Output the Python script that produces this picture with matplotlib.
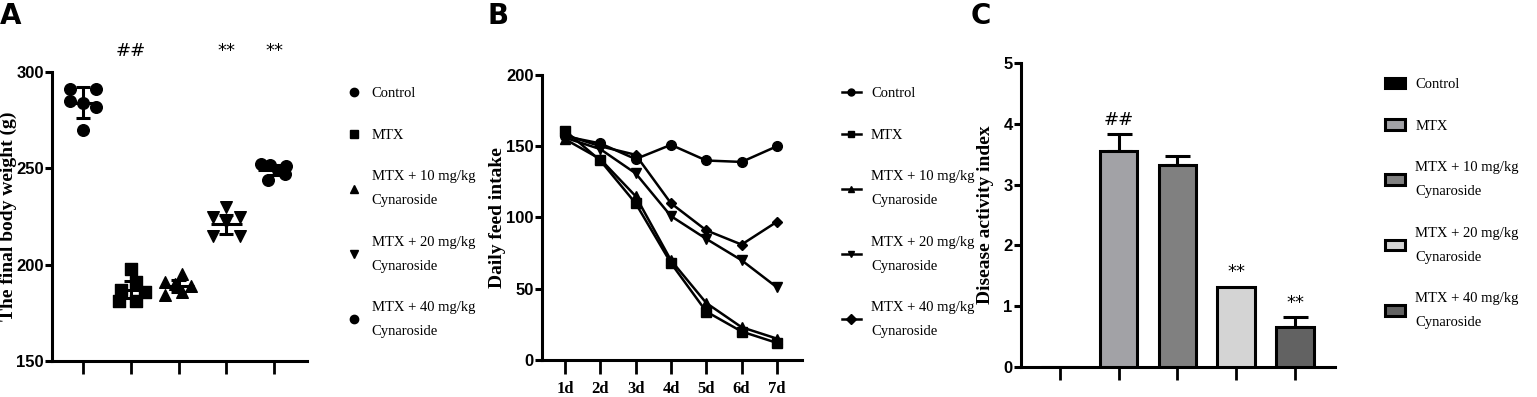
import numpy as np
import matplotlib
matplotlib.use("Agg")
from matplotlib import pyplot as plt
from matplotlib.lines import Line2D
from matplotlib.patches import Patch

# data
groups = ["Control", "MTX", "MTX + 10 mg/kg\nCynaroside",
          "MTX + 20 mg/kg\nCynaroside", "MTX + 40 mg/kg\nCynaroside"]

# A: final body weight (g), individual animals
bw_control = [291, 291, 284, 285, 282, 270]
bw_mtx = [198, 191, 187, 186, 181, 181]
bw_mtx10 = [184, 191, 195, 186, 189, 190]
bw_mtx20 = [230, 225, 225, 222, 215, 215]
bw_mtx40 = [252.5, 251.5, 251, 249, 247, 244]
bw_mean = [284, 187, 189, 221, 249]
bw_sd = [8, 4.5, 3, 5, 2.5]
bw_marks = ["", "##", "", "**", "**"]

# B: daily feed intake
days = ["1d", "2d", "3d", "4d", "5d", "6d", "7d"]
feed_control = [157, 152, 141, 151, 140, 139, 150]
feed_mtx = [161, 140, 110, 68, 34, 20, 12]
feed_mtx10 = [155, 141, 115, 70, 40, 23, 15]
feed_mtx20 = [156, 148, 131, 101, 85, 70, 51]
feed_mtx40 = [158, 150, 144, 110, 91, 81, 97]

# C: disease activity index
dai_mean = [0, 3.55, 3.32, 1.32, 0.65]
dai_err = [0, 0.28, 0.15, 0.0, 0.17]
dai_marks = ["", "##", "", "**", "**"]

W, H = 1537, 397
fig = plt.figure(figsize=(W / 100, H / 100), dpi=100)

num_font = ["Liberation Sans", "DejaVu Sans"]
serif = "Liberation Serif"


def px_axes(left, top, right, bottom):
    return fig.add_axes([left / W, (H - bottom) / H, (right - left) / W, (bottom - top) / H])


def style(ax, xticklen=9):
    for s in ["top", "right"]:
        ax.spines[s].set_visible(False)
    for s in ["left", "bottom"]:
        ax.spines[s].set_linewidth(2.2)
    ax.tick_params(axis="y", width=2.2, length=5, labelsize=12, pad=1)
    ax.tick_params(axis="x", width=2.0, length=xticklen, pad=5)
    for lab in ax.get_yticklabels():
        lab.set_family(num_font)
        lab.set_fontweight("bold")


def side_legend(ax, handles, x, y, hl=1.2):
    leg = ax.legend(handles=handles, loc="upper left", frameon=False,
                    bbox_to_anchor=(x / W, 1 - y / H), bbox_transform=fig.transFigure,
                    prop={"family": serif, "size": 10.5}, labelspacing=1.95,
                    handlelength=hl, handletextpad=0.7, borderaxespad=0)
    for t in leg.get_texts():
        t.set_linespacing(2.1)
    return leg


def ylabel(ax, text, dx, width):
    ax.set_ylabel(text, family=serif, fontweight="bold", fontsize=14, va="center")
    ax.yaxis.set_label_coords(-dx / width, 0.5)


# ---------- A ----------
axA = px_axes(52, 72, 307, 361)
offsets = [[-0.27, 0.27, 0, -0.27, 0.27, 0],
           [0.0, 0.1, -0.2, 0.3, -0.25, 0.1],
           [-0.28, -0.28, 0.07, 0.07, 0.26, -0.08],
           [0, -0.28, 0.28, 0, -0.28, 0.28],
           [-0.27, -0.09, 0.26, 0.08, 0.22, -0.12]]
bw_all = [bw_control, bw_mtx, bw_mtx10, bw_mtx20, bw_mtx40]
markersA = ["o", "s", "^", "v", "o"]
for i, vals in enumerate(bw_all):
    xs = i + np.array(offsets[i])
    axA.scatter(xs, vals, marker=markersA[i], s=70, color="black", zorder=3)
    m, sd = bw_mean[i], bw_sd[i]
    axA.hlines(m, i - 0.33, i + 0.33, color="black", lw=2.2, zorder=4)
    axA.vlines(i, m - sd, m + sd, color="black", lw=2.2, zorder=4)
    axA.hlines([m - sd, m + sd], i - 0.15, i + 0.15, color="black", lw=2.2, zorder=4)
    if bw_marks[i]:
        axA.text(i, 311, bw_marks[i], ha="center", va="center", fontsize=13,
                 family="DejaVu Sans", clip_on=False)
axA.set_xlim(-0.65, 4.69)
axA.set_ylim(150, 300)
axA.set_yticks([150, 200, 250, 300])
axA.set_xticks(range(5))
axA.set_xticklabels([])
style(axA)
ylabel(axA, "The final body weight (g)", 44, 255)
hA = [Line2D([], [], ls="none", marker=m, color="black", markersize=6) for m in markersA]
for h, g in zip(hA, groups):
    h.set_label(g)
side_legend(axA, hA, 341, 81, hl=1.0)
fig.text(0 / W, 1 - 2 / H, "A", fontsize=20, fontweight="bold", va="top", ha="left")

# ---------- B ----------
axB = px_axes(542, 75, 802, 360)
x = np.arange(1, 8)
feeds = [feed_control, feed_mtx, feed_mtx10, feed_mtx20, feed_mtx40]
markersB = ["o", "s", "^", "v", "D"]
for i, f in enumerate(feeds):
    axB.plot(x, f, color="black", lw=1.8, marker=markersB[i],
             markersize=7 if markersB[i] != "D" else 5.5, label=groups[i], zorder=3 + i)
axB.set_xlim(0.35, 7.71)
axB.set_ylim(0, 200)
axB.set_yticks([0, 50, 100, 150, 200])
axB.set_xticks(x)
axB.set_xticklabels(days, family=serif, fontweight="bold", fontsize=12)
style(axB, xticklen=10)
ylabel(axB, "Daily feed intake", 44, 260)
hB = [Line2D([], [], color="black", lw=1.8, marker=m, markersize=5) for m in markersB]
for h, g in zip(hB, groups):
    h.set_label(g)
side_legend(axB, hB, 836, 81, hl=1.3)
fig.text(488 / W, 1 - 2 / H, "B", fontsize=20, fontweight="bold", va="top", ha="left")

# ---------- C ----------
axC = px_axes(1021, 63, 1335, 367)
colorsC = ["#000000", "#a2a2a6", "#808080", "#d4d4d4", "#626262"]
xc = np.arange(5)
axC.bar(xc, dai_mean, width=0.64, color=colorsC, edgecolor="black", linewidth=2.2, zorder=3)
for i in range(5):
    if dai_err[i] > 0:
        axC.errorbar(i, dai_mean[i], yerr=[[0], [dai_err[i]]], color="black",
                     capsize=9, capthick=2.2, elinewidth=2.2, zorder=2)
    if dai_marks[i]:
        axC.text(i, dai_mean[i] + dai_err[i] + 0.24, dai_marks[i], ha="center", va="center",
                 fontsize=13, family="DejaVu Sans")
axC.set_xlim(-0.66, 4.68)
axC.set_ylim(0, 5)
axC.set_yticks(range(6))
axC.set_xticks(xc)
axC.set_xticklabels([])
style(axC)
ylabel(axC, "Disease activity index", 36, 314)
hC = [Patch(facecolor=c, edgecolor="black", linewidth=2.2, label=g) for c, g in zip(colorsC, groups)]
side_legend(axC, hC, 1379, 72, hl=1.4)
fig.text(971 / W, 1 - 2 / H, "C", fontsize=20, fontweight="bold", va="top", ha="left")

fig.savefig("out.png", dpi=100)
